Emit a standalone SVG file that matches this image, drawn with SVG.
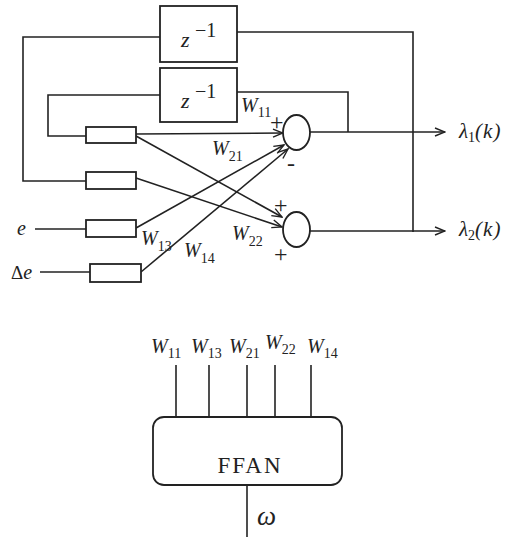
<svg xmlns="http://www.w3.org/2000/svg" width="511" height="537" viewBox="0 0 511 537">
<defs>
<marker id="arr" viewBox="0 0 12 10" refX="11" refY="5" markerWidth="12" markerHeight="10" markerUnits="userSpaceOnUse" orient="auto">
<path d="M1,1 L11,5 L1,9" fill="none" stroke="#222" stroke-width="1.4"/>
</marker>
<style>
.ln{fill:none;stroke:#222;stroke-width:1.6}
.bx{fill:#fff;stroke:#222;stroke-width:1.8}
.it{font-family:"Liberation Serif",serif;font-style:italic;fill:#222}
.rm{font-family:"Liberation Serif",serif;fill:#222}
.w{font-size:20px}
.s{font-size:14px;font-style:normal}
</style>
</defs>
<rect width="511" height="537" fill="#fff"/>
<g id="connectors">
<polyline class="ln" points="160,37 23,37 23,181 86,181"/>
<polyline class="ln" points="237,32 413,32 413,232"/>
<polyline class="ln" points="160,95 48,95 48,136 86,136"/>
<polyline class="ln" points="237,92 348,92 348,132"/>
<line class="ln" x1="136" y1="134" x2="283" y2="133" marker-end="url(#arr)"/>
<line class="ln" x1="136" y1="136" x2="282" y2="217" marker-end="url(#arr)"/>
<line class="ln" x1="136" y1="178" x2="282" y2="227" marker-end="url(#arr)"/>
<line class="ln" x1="136" y1="228" x2="284" y2="145" marker-end="url(#arr)"/>
<line class="ln" x1="141" y1="272" x2="288" y2="149" marker-end="url(#arr)"/>
<line class="ln" x1="35" y1="229" x2="86" y2="229"/>
<line class="ln" x1="40" y1="272" x2="90" y2="272"/>
<line class="ln" x1="310" y1="132" x2="445" y2="132" marker-end="url(#arr)"/>
<line class="ln" x1="310" y1="231" x2="445" y2="231" marker-end="url(#arr)"/>
<line class="ln" x1="176" y1="365" x2="176" y2="417"/>
<line class="ln" x1="209" y1="365" x2="209" y2="417"/>
<line class="ln" x1="247" y1="365" x2="247" y2="417"/>
<line class="ln" x1="275" y1="365" x2="275" y2="417"/>
<line class="ln" x1="311" y1="365" x2="311" y2="417"/>
<line class="ln" x1="247" y1="485" x2="247" y2="537"/>
</g>
<g id="delay1">
<rect class="bx" x="160" y="6" width="77" height="56"/>
<text class="it" x="181" y="47" font-size="22">z</text>
<text class="rm" x="195" y="37" font-size="20">−1</text>
</g>
<g id="delay2">
<rect class="bx" x="160" y="68" width="77" height="54"/>
<text class="it" x="181" y="108" font-size="22">z</text>
<text class="rm" x="195" y="98" font-size="20">−1</text>
</g>
<g id="rect1"><rect class="bx" x="86" y="127" width="50" height="16"/></g>
<g id="rect2"><rect class="bx" x="86" y="172" width="50" height="17"/></g>
<g id="rect3"><rect class="bx" x="86" y="220" width="50" height="17"/></g>
<g id="rect4"><rect class="bx" x="90" y="264" width="51" height="18"/></g>
<g id="sum1">
<ellipse class="bx" cx="296.5" cy="132.5" rx="13.5" ry="17.5"/>
<text class="rm" x="270" y="130" font-size="24">+</text>
<text class="rm" x="287" y="171" font-size="24">-</text>
</g>
<g id="sum2">
<ellipse class="bx" cx="296.5" cy="229.5" rx="13.5" ry="17.5"/>
<text class="rm" x="274" y="213" font-size="24">+</text>
<text class="rm" x="274" y="262" font-size="24">+</text>
</g>
<g id="labels">
<text class="it w" x="241" y="112">W<tspan class="s" dy="5">11</tspan></text>
<text class="it w" x="212" y="155">W<tspan class="s" dy="6">21</tspan></text>
<text class="it w" x="232" y="240">W<tspan class="s" dy="6">22</tspan></text>
<text class="it w" x="141" y="245">W<tspan class="s" dy="6">13</tspan></text>
<text class="it w" x="184" y="257">W<tspan class="s" dy="6">14</tspan></text>
<text class="it" x="17" y="235" font-size="20">e</text>
<text class="rm" x="11" y="279" font-size="19">Δ<tspan class="it" font-size="20">e</tspan></text>
<text class="it" x="459" y="138" font-size="21">λ<tspan class="s" font-size="14" dy="4">1</tspan><tspan dy="-4" letter-spacing="1">(k)</tspan></text>
<text class="it" x="459" y="236" font-size="21">λ<tspan class="s" font-size="14" dy="4">2</tspan><tspan dy="-4" letter-spacing="1">(k)</tspan></text>
</g>
<g id="ffan">
<rect class="bx" x="153" y="417" width="189" height="68" rx="11"/>
<text class="rm" x="250" y="473" font-size="23" letter-spacing="2" text-anchor="middle">FFAN</text>
</g>
<g id="ffan-labels">
<text class="it w" x="151" y="353">W<tspan class="s" dy="5">11</tspan></text>
<text class="it w" x="191" y="353">W<tspan class="s" dy="5">13</tspan></text>
<text class="it w" x="229" y="353">W<tspan class="s" dy="5">21</tspan></text>
<text class="it w" x="265" y="349">W<tspan class="s" dy="5">22</tspan></text>
<text class="it w" x="307" y="353">W<tspan class="s" dy="5">14</tspan></text>
<text class="it" x="257" y="525" font-size="27">ω</text>
</g>
</svg>
